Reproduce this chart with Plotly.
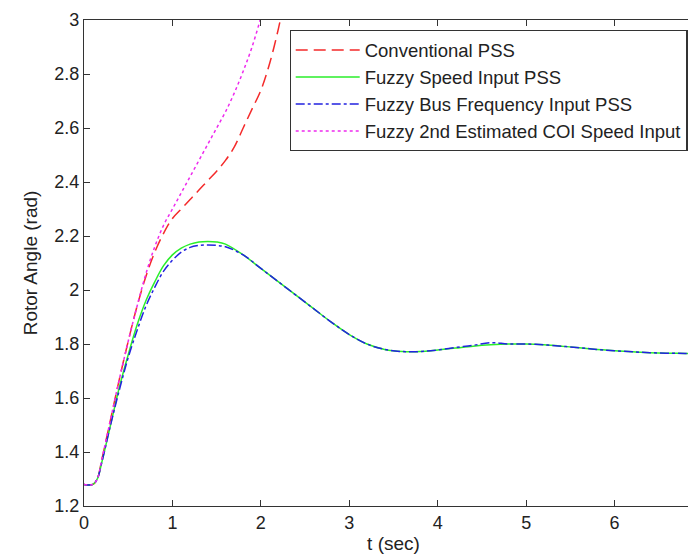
import plotly.graph_objects as go

# Time samples and series values
t_conv = [0, 0.1, 0.15, 0.2, 0.3, 0.4, 0.5, 0.6, 0.7, 0.8, 0.9, 1.0, 1.1, 1.2, 1.3, 1.4,
          1.5, 1.6, 1.7, 1.8, 1.9, 2.0, 2.1, 2.2, 2.25, 2.3]
y_conv = [1.28, 1.28, 1.30, 1.37, 1.52, 1.67, 1.81, 1.94, 2.05, 2.14, 2.21, 2.265, 2.30,
          2.335, 2.37, 2.405, 2.44, 2.48, 2.53, 2.60, 2.67, 2.74, 2.84, 2.97, 3.05, 3.14]

t_fz = [0, 0.1, 0.15, 0.2, 0.3, 0.4, 0.5, 0.6, 0.7, 0.8, 0.9, 1.0, 1.1, 1.2, 1.3, 1.4, 1.5,
        1.6, 1.8, 2.0, 2.2, 2.4, 2.6, 2.8, 3.0, 3.2, 3.4, 3.6, 3.8, 4.0, 4.2, 4.4, 4.6, 4.8,
        5.0, 5.2, 5.4, 5.6, 5.8, 6.0, 6.2, 6.4, 6.6, 6.8, 7.0]
y_speed = [1.28, 1.28, 1.30, 1.36, 1.50, 1.64, 1.76, 1.87, 1.96, 2.03, 2.09, 2.13, 2.155,
           2.17, 2.178, 2.18, 2.178, 2.17, 2.13, 2.08, 2.03, 1.98, 1.93, 1.88, 1.835, 1.80,
           1.78, 1.772, 1.772, 1.778, 1.785, 1.792, 1.797, 1.80, 1.80, 1.797, 1.792, 1.786,
           1.78, 1.775, 1.771, 1.768, 1.766, 1.765, 1.764]
y_bus = [1.28, 1.28, 1.30, 1.36, 1.50, 1.63, 1.75, 1.85, 1.94, 2.01, 2.07, 2.11, 2.14,
         2.158, 2.165, 2.167, 2.165, 2.16, 2.13, 2.08, 2.03, 1.98, 1.93, 1.88, 1.835, 1.80,
         1.78, 1.772, 1.772, 1.778, 1.787, 1.795, 1.805, 1.80, 1.80, 1.797, 1.792, 1.786,
         1.78, 1.775, 1.771, 1.768, 1.766, 1.765, 1.764]

t_coi = [0, 0.1, 0.15, 0.2, 0.3, 0.4, 0.5, 0.6, 0.7, 0.8, 0.9, 1.0, 1.1, 1.2, 1.3, 1.4,
         1.5, 1.6, 1.7, 1.8, 1.9, 2.0, 2.05]
y_coi = [1.28, 1.28, 1.30, 1.37, 1.52, 1.67, 1.81, 1.94, 2.06, 2.16, 2.24, 2.30, 2.36,
         2.42, 2.48, 2.54, 2.60, 2.66, 2.73, 2.81, 2.90, 3.01, 3.08]

names = ["Conventional PSS", "Fuzzy Speed Input PSS",
         "Fuzzy Bus Frequency Input PSS", "Fuzzy 2nd Estimated COI Speed Input"]

x_ticks = [0, 1, 2, 3, 4, 5, 6, 7]
y_ticks = [1.2, 1.4, 1.6, 1.8, 2, 2.2, 2.4, 2.6, 2.8, 3]

FONT = "Liberation Sans, Arial, sans-serif"

fig = go.Figure()
fig.add_trace(go.Scatter(x=t_conv, y=y_conv, mode="lines", name=names[0], legendgroup="a",
                         line=dict(color="#f42a2a", width=1.5, dash="12px,6px", shape="spline")))
fig.add_trace(go.Scatter(x=t_fz, y=y_speed, mode="lines", name=names[1], legendgroup="b",
                         line=dict(color="#2aee2a", width=1.5, shape="spline")))
fig.add_trace(go.Scatter(x=t_fz, y=y_bus, mode="lines", name=names[2], legendgroup="c",
                         line=dict(color="#2222e0", width=1.5, dash="dashdot", shape="spline")))
fig.add_trace(go.Scatter(x=t_coi, y=y_coi, mode="lines", name=names[3], legendgroup="d",
                         line=dict(color="#ee2aee", width=1.5, dash="dot", shape="spline")))

axis_common = dict(showline=True, linecolor="#333", linewidth=1.2, mirror="ticks",
                   ticks="inside", ticklen=6, tickcolor="#333", showgrid=False,
                   zeroline=False, automargin=False, ticklabeloverflow="allow",
                   tickfont=dict(family=FONT, size=18, color="#222"))

fig.update_layout(
    width=696, height=554,
    margin=dict(l=76, r=1, t=12, b=56),
    paper_bgcolor="white", plot_bgcolor="white",
    font=dict(family=FONT, size=18, color="#222"),
    xaxis=dict(range=[0, 7], tickvals=x_ticks, title=dict(text="t (sec)", standoff=4,
               font=dict(size=19)), **axis_common),
    yaxis=dict(range=[1.2, 3], tickvals=y_ticks, title=dict(text="Rotor Angle (rad)", standoff=11,
               font=dict(size=19)), **axis_common),
    legend=dict(x=0.332, y=0.979, xanchor="left", yanchor="top",
                bgcolor="white", bordercolor="#333", borderwidth=1.2,
                font=dict(size=18.5, color="#222"), traceorder="grouped",
                tracegroupgap=0, itemwidth=64),
    showlegend=True,
)

fig.write_html("out.html")
